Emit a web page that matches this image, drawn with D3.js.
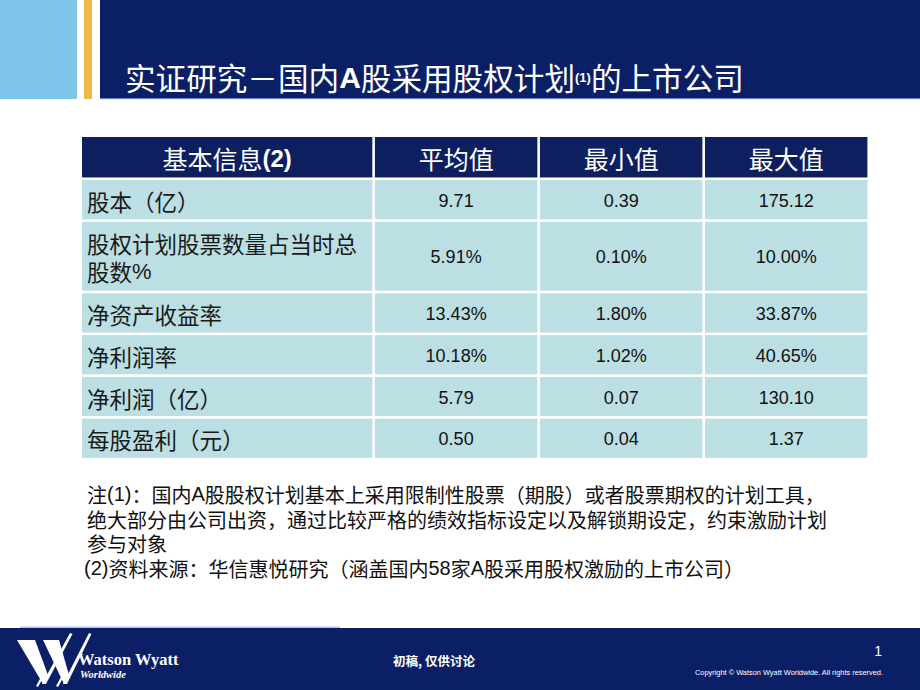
<!DOCTYPE html>
<html><head><meta charset="utf-8">
<script src="https://cdn.jsdelivr.net/npm/d3@7"></script>
<style>html,body{margin:0;padding:0;background:#fff;}svg{display:block;}</style>
</head><body>
<script>
const title = ["实证研究－国内", "A", "股采用股权计划", "(1)", "的上市公司"];
const headers = ["基本信息(2)", "平均值", "最小值", "最大值"];
const categories = [["股本（亿）"], ["股权计划股票数量占当时总", "股数%"], ["净资产收益率"], ["净利润率"], ["净利润（亿）"], ["每股盈利（元）"]];
const averages = ["9.71", "5.91%", "13.43%", "10.18%", "5.79", "0.50"];
const minimums = ["0.39", "0.10%", "1.80%", "1.02%", "0.07", "0.04"];
const maximums = ["175.12", "10.00%", "33.87%", "40.65%", "130.10", "1.37"];
const notes = [
  "注(1)：国内A股股权计划基本上采用限制性股票（期股）或者股票期权的计划工具，",
  "绝大部分由公司出资，通过比较严格的绩效指标设定以及解锁期设定，约束激励计划",
  "参与对象",
  "(2)资料来源：华信惠悦研究（涵盖国内58家A股采用股权激励的上市公司）"
];
const footerNote = "初稿, 仅供讨论";
const pageNumber = "1";
const copyright = "Copyright © Watson Wyatt Worldwide. All rights reserved.";

const W = 920, H = 690;
const CJK = "'Noto Sans CJK SC','Noto Sans',sans-serif";
const LAT = "'Liberation Sans',Arial,sans-serif";
const NAVY = "#0b1f66", CELL = "#bcdfe3", HEAD = "#0e1f5f";

const svg = d3.select("body").append("svg").attr("width", W).attr("height", H);

// header band
svg.append("rect").attr("x", 0).attr("y", 0).attr("width", 77).attr("height", 99).attr("fill", "#7dc6ea");
svg.append("rect").attr("x", 84).attr("y", 0).attr("width", 8).attr("height", 99).attr("fill", "#f0ba48");
svg.append("rect").attr("x", 100).attr("y", 0).attr("width", W - 100).attr("height", 98).attr("fill", NAVY);
svg.append("rect").attr("x", 100).attr("y", 98).attr("width", W - 100).attr("height", 1.2).attr("fill", "#6d86c0");

// mixed-script text helper
function mixed(sel, str, latSize, latWeight) {
  const runs = str.match(/[\x20-\x7e%]+|[^\x20-\x7e%]+/g) || [];
  runs.forEach(r => {
    const ascii = /^[\x20-\x7e%]+$/.test(r);
    const t = sel.append("tspan").text(r);
    if (ascii) {
      t.attr("font-family", LAT);
      if (latSize) t.attr("font-size", latSize);
      if (latWeight) t.attr("font-weight", latWeight);
    }
  });
}

// title
const tt = svg.append("text").attr("x", 125).attr("y", 77).attr("dominant-baseline", "central")
  .attr("fill", "#fff").attr("font-family", CJK).attr("font-size", 30.6);
title.forEach((s, i) => {
  const t = tt.append("tspan").text(s);
  if (s === "A") t.attr("font-family", LAT).attr("font-weight", "bold").attr("font-size", 30);
  if (s === "(1)") t.attr("font-family", LAT).attr("font-size", 13).attr("font-weight", "bold");
});

// table scales
const colW = headers.map((h, i) => i === 0 ? 1.775 : 1);
const colEdges = d3.cumsum([0].concat(colW));
const x = d3.scaleLinear().domain([0, d3.sum(colW)]).range([82, 870]);
const rowW = [1.03].concat(categories.map(c => c.length === 1 ? 1 : 1.71));
const rowEdges = d3.cumsum([0].concat(rowW));
const y = d3.scaleLinear().domain([0, d3.sum(rowW)]).range([137, 460.5]);
const gap = 2.6;

const columns = [categories, averages, minimums, maximums];

// header row
headers.forEach((h, c) => {
  const x0 = x(colEdges[c]), x1 = x(colEdges[c + 1]) - gap;
  const y0 = y(rowEdges[0]), y1 = y(rowEdges[1]) - gap;
  svg.append("rect").attr("x", x0).attr("y", y0).attr("width", x1 - x0).attr("height", y1 - y0).attr("fill", HEAD);
  const t = svg.append("text").attr("x", (x0 + x1) / 2).attr("y", (y0 + y1) / 2 + 1)
    .attr("text-anchor", "middle").attr("dominant-baseline", "central")
    .attr("fill", "#fff").attr("font-family", CJK).attr("font-size", 25);
  mixed(t, h, 24, "bold");
});

// body rows
categories.forEach((cat, r) => {
  const y0 = y(rowEdges[r + 1]), y1 = y(rowEdges[r + 2]) - gap;
  const cy = (y0 + y1) / 2 + 1;
  columns.forEach((col, c) => {
    const x0 = x(colEdges[c]), x1 = x(colEdges[c + 1]) - gap;
    svg.append("rect").attr("x", x0).attr("y", y0).attr("width", x1 - x0).attr("height", y1 - y0).attr("fill", CELL);
    if (c === 0) {
      const n = cat.length;
      cat.forEach((line, k) => {
        const t = svg.append("text").attr("x", x0 + 5).attr("y", cy + (k - (n - 1) / 2) * 28)
          .attr("dominant-baseline", "central").attr("fill", "#1a1a1a")
          .attr("font-family", CJK).attr("font-size", 22.5);
        mixed(t, line, 22);
      });
    } else {
      svg.append("text").attr("x", (x0 + x1) / 2).attr("y", cy)
        .attr("text-anchor", "middle").attr("dominant-baseline", "central")
        .attr("fill", "#111").attr("font-family", LAT).attr("font-size", 18).text(col[r]);
    }
  });
});

// notes
notes.forEach((n, i) => {
  const t = svg.append("text").attr("x", i === 3 ? 84 : 87).attr("y", 494 + i * 24.7)
    .attr("dominant-baseline", "central").attr("fill", "#111")
    .attr("font-family", CJK).attr("font-size", 20);
  mixed(t, n, 20);
});

// footer
svg.append("rect").attr("x", 0).attr("y", 628).attr("width", W).attr("height", H - 628).attr("fill", NAVY);
svg.append("rect").attr("x", 20).attr("y", 626.5).attr("width", 320).attr("height", 1.5).attr("fill", "#b8c6e4");

// logo
const logo = svg.append("g").attr("fill", "#fff");
logo.append("path").attr("d", "M17,640 L35,640 L48,675 L43,684 Z");
logo.append("path").attr("d", "M43,640 L59,640 L69,675 L64,684 Z");
logo.append("path").attr("d", "M42,684 L70,633 L72.5,634 L46,684 Z");
logo.append("path").attr("d", "M63,684 L89,633 L91.5,634 L67,684 Z");
logo.append("path").attr("d", "M36,686 L41,677 L43,678 L38,687 Z");
logo.append("path").attr("d", "M56,686 L61,677 L63,678 L58,687 Z");
svg.append("text").attr("x", 78).attr("y", 665).attr("fill", "#fff")
  .attr("font-family", "'Liberation Serif','DejaVu Serif',serif").attr("font-weight", "bold").attr("font-size", 16.5)
  .text("Watson Wyatt");
svg.append("text").attr("x", 80).attr("y", 677.5).attr("fill", "#fff")
  .attr("font-family", "'Liberation Serif','DejaVu Serif',serif").attr("font-style", "italic").attr("font-weight", "bold").attr("font-size", 10.5)
  .text("Worldwide");

svg.append("text").attr("x", 393).attr("y", 660).attr("dominant-baseline", "central")
  .attr("fill", "#fff").attr("font-family", CJK).attr("font-weight", "bold").attr("font-size", 12.5).text(footerNote);
svg.append("text").attr("x", 882).attr("y", 651).attr("text-anchor", "end").attr("dominant-baseline", "central")
  .attr("fill", "#fff").attr("font-family", LAT).attr("font-size", 14).text(pageNumber);
svg.append("text").attr("x", 695).attr("y", 672).attr("dominant-baseline", "central")
  .attr("fill", "#fff").attr("font-family", LAT).attr("font-size", 7.5)
  .attr("textLength", 188).attr("lengthAdjust", "spacingAndGlyphs").text(copyright);
</script>
</body></html>
